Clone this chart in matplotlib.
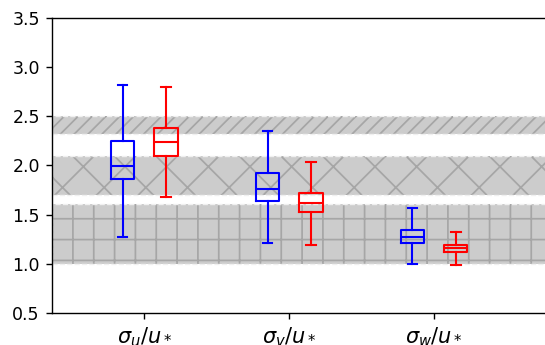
import matplotlib
matplotlib.use("Agg")
import matplotlib.pyplot as plt

# box statistics: (whislo, q1, med, q3, whishi)
labels = [r"$\sigma_u/u_*$", r"$\sigma_v/u_*$", r"$\sigma_w/u_*$"]
blue_stats = [
    (1.27, 1.86, 1.99, 2.25, 2.82),
    (1.21, 1.64, 1.76, 1.92, 2.35),
    (1.00, 1.21, 1.27, 1.35, 1.57),
]
red_stats = [
    (1.68, 2.10, 2.24, 2.38, 2.80),
    (1.19, 1.53, 1.62, 1.72, 2.04),
    (0.99, 1.12, 1.16, 1.19, 1.33),
]
# reference ranges shown as hatched bands (low, high, hatch)
band_lo = [1.0, 1.7, 2.32]
band_hi = [1.61, 2.1, 2.5]
band_hatch = ["+", "x", "///"]

def to_bxp(rows):
    return [dict(whislo=a, q1=b, med=c, q3=d, whishi=e, fliers=[]) for a, b, c, d, e in rows]

DPI = 125
fig = plt.figure(figsize=(545 / DPI, 345 / DPI), dpi=DPI)
ax = fig.add_axes([52 / 545, 31.7 / 345, 527 / 545, 295.6 / 345])

for lo, hi, h in zip(band_lo, band_hi, band_hatch):
    ax.axhspan(lo, hi, facecolor="#cccccc", edgecolor="#a6a6a6", hatch=h, linewidth=0, zorder=0)
    ax.axhspan(lo, hi, fill=False, edgecolor="#f0f0f0", linestyle="--", linewidth=0.8, zorder=0.5)

pos = [1, 2, 3]
for stats, col, off in [(blue_stats, "blue", -0.15), (red_stats, "red", 0.15)]:
    lp = dict(color=col, linewidth=1.2)
    ax.bxp(to_bxp(stats), positions=[p + off for p in pos], widths=0.16,
           capwidths=0.065, showfliers=False,
           boxprops=lp, whiskerprops=lp, capprops=lp, medianprops=lp,
           manage_ticks=False, zorder=3)

ax.set_xlim(0.3626, 4.0)
ax.set_ylim(0.5, 3.5)
ax.set_xticks(pos)
ax.set_xticklabels(labels, fontsize=12)
ax.tick_params(axis="y", labelsize=10)

fig.savefig("out.png", dpi=DPI)
